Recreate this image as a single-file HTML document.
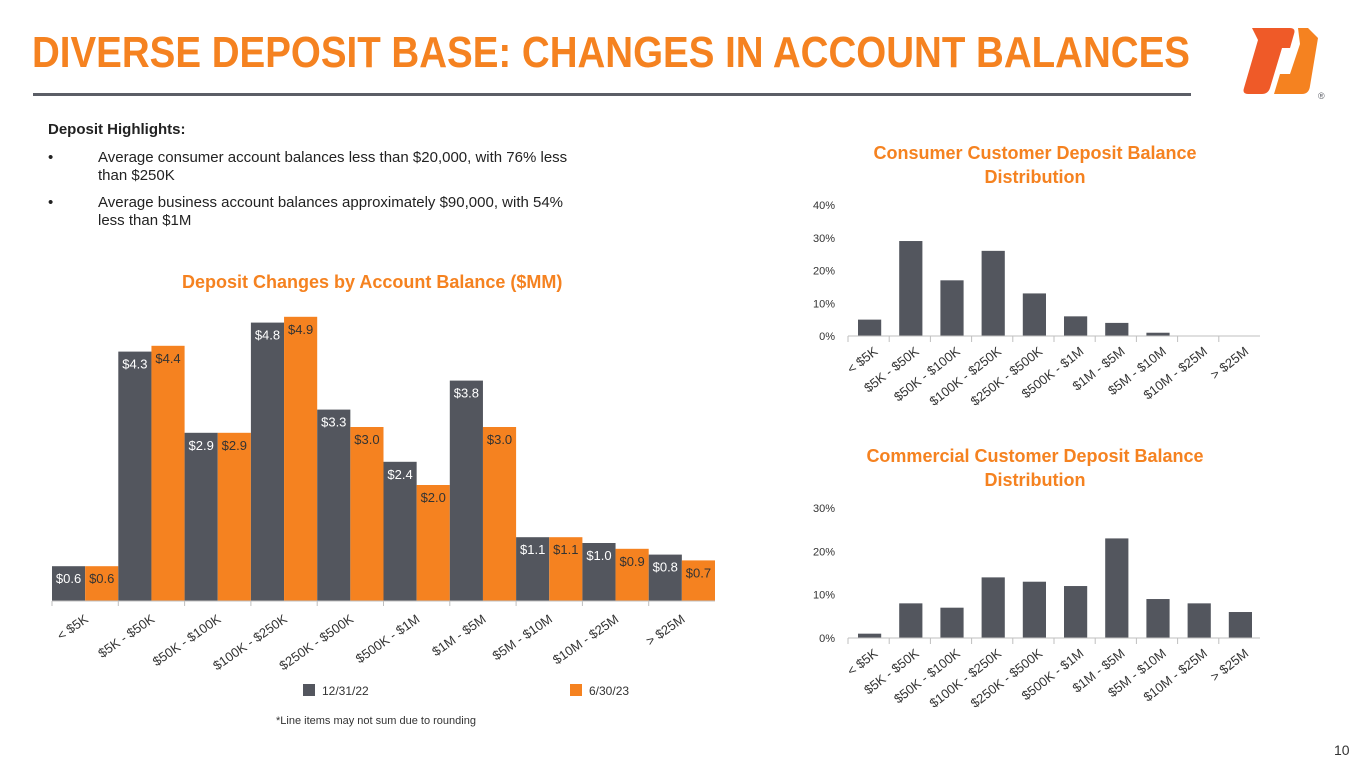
<!DOCTYPE html>
<html><head><meta charset="utf-8">
<style>
body{margin:0;width:1365px;height:768px;background:#fff;font-family:"Liberation Sans","DejaVu Sans",sans-serif;overflow:hidden;position:relative}
.abs{position:absolute}
h1{position:absolute;left:32px;top:28px;margin:0;font-size:44px;line-height:50px;font-weight:bold;color:#F58220;white-space:nowrap;transform:scaleX(0.875);transform-origin:0 0}
svg text{font-family:"Liberation Sans","DejaVu Sans",sans-serif}
</style></head><body>
<h1>DIVERSE DEPOSIT BASE: CHANGES IN ACCOUNT BALANCES</h1>
<div class="abs" style="left:33px;top:93px;width:1158px;height:3px;background:#5B5E66"></div>
<svg class="abs" style="left:1238px;top:22px" width="115" height="80" viewBox="0 0 115 80">
<path d="M14 6 L52 6 Q58 6 56 12 L52 26 L44 26 L32 66 Q30 72 24 72 L10 72 Q4 72 6 66 L20 18 Z" fill="#EF5A28"/>
<path d="M60 6 L70 6 L80 16 L72 64 Q71 72 64 72 L36 72 L42 52 L52 52 L62 22 Z" fill="#F58220"/>
<text x="80" y="77" font-size="9" fill="#5B5E66">®</text>
</svg>
<div class="abs" style="left:48px;top:121px;width:540px;font-size:15px;color:#222;line-height:18px">
<div style="font-weight:bold;margin-bottom:10px">Deposit Highlights:</div>
<div style="position:relative;padding-left:50px;margin-bottom:9px"><span style="position:absolute;left:0">•</span>Average consumer account balances less than $20,000, with 76% less than $250K</div>
<div style="position:relative;padding-left:50px"><span style="position:absolute;left:0">•</span>Average business account balances approximately $90,000, with 54% less than $1M</div>
</div>
<div class="abs" style="left:182px;top:272px;font-size:18px;font-weight:bold;color:#F58220">Deposit Changes by Account Balance ($MM)</div>
<div class="abs" style="left:800px;top:141px;width:470px;text-align:center;font-size:18px;font-weight:bold;color:#F58220;line-height:24px">Consumer Customer Deposit Balance<br>Distribution</div>
<div class="abs" style="left:800px;top:444px;width:470px;text-align:center;font-size:18px;font-weight:bold;color:#F58220;line-height:24px">Commercial Customer Deposit Balance<br>Distribution</div>
<div class="abs" style="left:276px;top:715px;font-size:11px;color:#333">*Line items may not sum due to rounding</div>
<div class="abs" style="left:1334px;top:742px;font-size:14px;color:#333">10</div>
<svg id="chart" class="abs" style="left:0;top:0" width="1365" height="768"></svg>
<script>
const categories=["< $5K","$5K - $50K","$50K - $100K","$100K - $250K","$250K - $500K","$500K - $1M","$1M - $5M","$5M - $10M","$10M - $25M","> $25M"];
const dec22=[0.6,4.3,2.9,4.8,3.3,2.4,3.8,1.1,1.0,0.8];
const jun23=[0.6,4.4,2.9,4.9,3.0,2.0,3.0,1.1,0.9,0.7];
const consumerPct=[5,29,17,26,13,6,4,1,0,0];
const commercialPct=[1,8,7,14,13,12,23,9,8,6];
const consumerTicks=[0,10,20,30,40];
const commercialTicks=[0,10,20,30];
const svg=document.getElementById('chart');
const NS='http://www.w3.org/2000/svg';
function mk(t,a){const e=document.createElementNS(NS,t);for(const k in a)e.setAttribute(k,a[k]);svg.appendChild(e);return e;}
const DARK='#53565E',ORANGE='#F58220',GRID='#BFBFBF';
const mx0=52,mx1=715,mBase=601,mScale=58;
const mBand=(mx1-mx0)/categories.length;
const my=v=>mBase-v*mScale;
categories.forEach((c,i)=>{
  const x=mx0+i*mBand;
  [[dec22[i],DARK,'#fff',0],[jun23[i],ORANGE,'#333',1]].forEach(([v,col,tc,j])=>{
    const bx=x+j*mBand/2;
    const r=mk('rect',{x:bx,y:my(v),width:mBand/2,height:v*mScale,fill:col});
    
    
    const t=mk('text',{x:bx+mBand/4,y:my(v)+17,'text-anchor':'middle','font-size':13,fill:tc});
    
    
    t.textContent='$'+v.toFixed(1);
  });
  const tk=mk('line',{x1:x,y1:mBase,x2:x,y2:mBase+5,stroke:GRID});
  
  
  const cx=x+mBand/2+4;
  const lt=mk('text',{x:cx,y:mBase+20,'text-anchor':'end','font-size':13,fill:'#333',transform:`rotate(-35 ${cx} ${mBase+20})`});
  
  
  lt.textContent=c;
});
const ax=mk('line',{x1:mx0,y1:mBase,x2:mx1,y2:mBase,stroke:GRID});


[[DARK,'12/31/22',303],[ORANGE,'6/30/23',570]].forEach(([c,l,x])=>{
  const r=mk('rect',{x:x,y:684,width:12,height:12,fill:c});
  
  
  const t=mk('text',{x:x+19,y:695,'font-size':12,fill:'#333'});
  
  
  t.textContent=l;
});
function small(vals,ticks,base,per10,prefix){
  const x0=848,x1=1260,band=(x1-x0)/categories.length;
  const y=v=>base-v*per10/10;
  ticks.forEach(tv=>{
    const t=mk('text',{x:835,y:y(tv)+4,'text-anchor':'end','font-size':11,fill:'#333'});
    
    
    t.textContent=tv+'%';
  });
  vals.forEach((v,i)=>{
    const x=x0+i*band;
    const r=mk('rect',{x:x+10,y:y(v),width:band-18,height:base-y(v),fill:DARK});
    
    
    const tk=mk('line',{x1:x,y1:base,x2:x,y2:base+6,stroke:GRID});
    
    
    const cx=x+band/2+10;
    const lt=mk('text',{x:cx,y:base+17,'text-anchor':'end','font-size':13,fill:'#333',transform:`rotate(-38 ${cx} ${base+17})`});
    
    
    lt.textContent=categories[i];
  });
  const a=mk('line',{x1:x0,y1:base,x2:x1,y2:base,stroke:GRID});
  
  
}
small(consumerPct,consumerTicks,336,32.75,'consumer');
small(commercialPct,commercialTicks,638,43.3,'commercial');
</script>
</body></html>
